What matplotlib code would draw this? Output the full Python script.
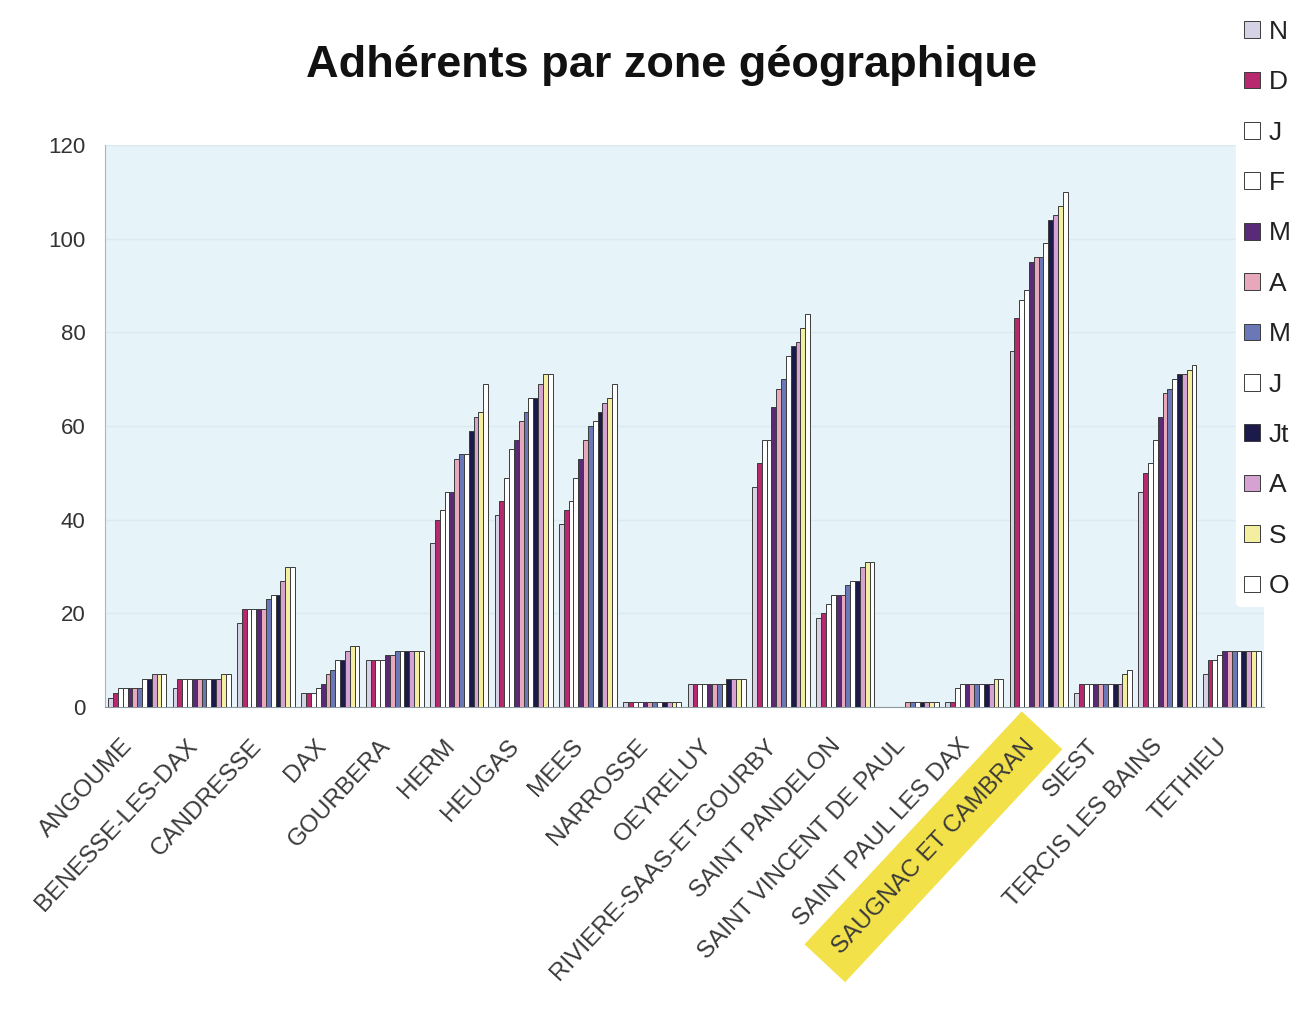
import matplotlib
matplotlib.use("Agg")
import matplotlib.pyplot as plt
import numpy as np

plt.rcParams['font.family'] = ['Liberation Sans', 'DejaVu Sans']

categories = ["ANGOUME", "BENESSE-LES-DAX", "CANDRESSE", "DAX", "GOURBERA", "HERM",
              "HEUGAS", "MEES", "NARROSSE", "OEYRELUY", "RIVIERE-SAAS-ET-GOURBY",
              "SAINT PANDELON", "SAINT VINCENT DE PAUL", "SAINT PAUL LES DAX",
              "SAUGNAC ET CAMBRAN", "SIEST", "TERCIS LES BAINS", "TETHIEU"]

series_labels = ["N", "D", "J", "F", "M", "A", "M", "J", "Jt", "A", "S", "O"]

nov = [2, 4, 18, 3, 10, 35, 41, 39, 1, 5, 47, 19, 0, 1, 76, 3, 46, 7]
dec = [3, 6, 21, 3, 10, 40, 44, 42, 1, 5, 52, 20, 0, 1, 83, 5, 50, 10]
jan = [4, 6, 21, 3, 10, 42, 49, 44, 1, 5, 57, 22, 0, 4, 87, 5, 52, 10]
feb = [4, 6, 21, 4, 10, 46, 55, 49, 1, 5, 57, 24, 0, 5, 89, 5, 57, 11]
mar = [4, 6, 21, 5, 11, 46, 57, 53, 1, 5, 64, 24, 0, 5, 95, 5, 62, 12]
apr = [4, 6, 21, 7, 11, 53, 61, 57, 1, 5, 68, 24, 1, 5, 96, 5, 67, 12]
may = [4, 6, 23, 8, 12, 54, 63, 60, 1, 5, 70, 26, 1, 5, 96, 5, 68, 12]
jun = [6, 6, 24, 10, 12, 54, 66, 61, 1, 5, 75, 27, 1, 5, 99, 5, 70, 12]
jul = [6, 6, 24, 10, 12, 59, 66, 63, 1, 6, 77, 27, 1, 5, 104, 5, 71, 12]
aug = [7, 6, 27, 12, 12, 62, 69, 65, 1, 6, 78, 30, 1, 5, 105, 5, 71, 12]
sep = [7, 7, 30, 13, 12, 63, 71, 66, 1, 6, 81, 31, 1, 6, 107, 7, 72, 12]
octo = [7, 7, 30, 13, 12, 69, 71, 69, 1, 6, 84, 31, 1, 6, 110, 8, 73, 12]

series = [nov, dec, jan, feb, mar, apr, may, jun, jul, aug, sep, octo]
colors = ["#d6d2e6", "#b8286e", "#ffffff", "#ffffff", "#5a2a78", "#e8a8bc",
          "#6a78b8", "#ffffff", "#1c1a4a", "#d6a2d2", "#f4eea0", "#ffffff"]

fig = plt.figure(figsize=(12.96, 10.21), dpi=100)
ax = fig.add_axes([105/1296, 1-707/1021, (1264-105)/1296, (707-145)/1021])
ax.set_facecolor("#e6f3f8")

x = np.arange(len(categories))
w = 0.075
handles = []
for i, (vals, col, lab) in enumerate(zip(series, colors, series_labels)):
    b = ax.bar(x + (i - 5.5) * w, vals, width=w, color=col,
               edgecolor="#3c3c3c", linewidth=0.7, label=lab, zorder=3)
    handles.append(b)

ax.set_xlim(-0.5, len(categories) - 0.5)
ax.set_ylim(0, 120)
ax.set_yticks(np.arange(0, 121, 20))
ax.yaxis.grid(True, color="#d9eaf1", linewidth=1.0, zorder=0)
ax.set_axisbelow(True)
for s in ["top", "right"]:
    ax.spines[s].set_visible(False)
ax.spines["left"].set_color("#a8b8c0")
ax.spines["bottom"].set_color("#8a9aa0")
ax.tick_params(axis="y", length=0, pad=14, labelsize=16, labelcolor="#333333")
ax.tick_params(axis="x", length=0, pad=31)

ax.set_xticks(x)
labels = ax.set_xticklabels(categories, rotation=47, ha="right", va="bottom",
                            rotation_mode="anchor", fontsize=17.5, color="#3a3a3a")
for t in labels:
    if t.get_text() == "SAUGNAC ET CAMBRAN":
        t.set_bbox(dict(facecolor="#f3e14a", edgecolor="none", pad=12))

fig.text(671/1296, 1-66/1021, "Adhérents par zone géographique",
         ha="center", va="center", fontsize=32.5, fontweight="bold", color="#111111")

leg = fig.legend(handles, series_labels, loc="upper left",
                 bbox_to_anchor=(1236/1296, 1-12/1021), bbox_transform=fig.transFigure,
                 frameon=True, facecolor="white", edgecolor="white", framealpha=1,
                 fontsize=19, handlelength=0.6, handleheight=0.6,
                 labelspacing=1.0, borderpad=0.3, handletextpad=0.35,
                 borderaxespad=0)
for txt in leg.get_texts():
    txt.set_color("#222222")

fig.savefig("out.png", dpi=100)
